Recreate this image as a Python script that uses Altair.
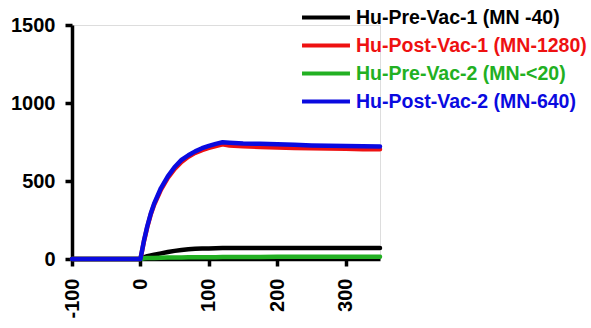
import altair as alt
import pandas as pd

series_names = [
    "Hu-Pre-Vac-1 (MN -40)",
    "Hu-Post-Vac-1 (MN-1280)",
    "Hu-Pre-Vac-2 (MN-<20)",
    "Hu-Post-Vac-2 (MN-640)",
]
series_colors = ["#000000", "#ee1111", "#22b022", "#0a0ae0"]

time = [-100, 0, 5, 10, 15, 20, 30, 40, 50, 60, 70, 80, 90, 100, 110, 120,
        130, 150, 175, 200, 225, 250, 275, 300, 325, 350]

pre_vac_1 = [0, 0, 10, 18, 23, 28, 36, 45, 52, 58, 62, 65, 67, 68, 69, 70,
             71, 71, 70, 70, 70, 70, 70, 70, 70, 70]
post_vac_1 = [0, 0, 110, 205, 285, 348, 445, 520, 578, 622, 655, 680, 698, 712, 724, 735,
              728, 722, 718, 715, 712, 710, 708, 706, 704, 703]
pre_vac_2 = [0, 0, 5, 6, 7, 7, 8, 9, 10, 10, 11, 11, 12, 12, 12, 13,
             13, 13, 13, 14, 14, 14, 14, 14, 14, 14]
post_vac_2 = [0, 0, 115, 210, 290, 355, 455, 530, 590, 635, 665, 690, 710, 725, 738, 748,
              745, 740, 738, 735, 732, 728, 726, 724, 722, 721]

x_ticks = [-100, 0, 100, 200, 300]
y_ticks = [0, 500, 1000, 1500]

rows = []
for name, vals in zip(series_names, [pre_vac_1, post_vac_1, pre_vac_2, post_vac_2]):
    for t, v in zip(time, vals):
        rows.append({"time": t, "value": v, "series": name})
df = pd.DataFrame(rows)

FONT = "Liberation Sans"

chart = alt.Chart(df).mark_line(strokeWidth=4.5, strokeCap="round", strokeJoin="round").encode(
    x=alt.X("time:Q",
            scale=alt.Scale(domain=[-100, 350], nice=False, zero=False),
            axis=alt.Axis(values=x_ticks, title=None, labelAngle=270, grid=False,
                          labelExpr="'' + datum.value",
                          domainColor="black", domainWidth=3.5, tickColor="black",
                          tickWidth=3.5, tickSize=7, labelPadding=12,
                          labelFont=FONT, labelFontSize=20, labelFontWeight="bold",
                          labelColor="black", labelOverlap=False)),
    y=alt.Y("value:Q",
            scale=alt.Scale(domain=[0, 1500], nice=False),
            axis=alt.Axis(values=y_ticks, title=None, grid=False,
                          labelExpr="'' + datum.value",
                          domainColor="black", domainWidth=3.5, tickColor="black",
                          tickWidth=3.5, tickSize=7, labelPadding=10,
                          labelFont=FONT, labelFontSize=20, labelFontWeight="bold",
                          labelColor="black", labelOverlap=False)),
    color=alt.Color("series:N",
                    scale=alt.Scale(domain=series_names, range=series_colors),
                    sort=series_names,
                    legend=alt.Legend(
                        title=None, orient="none", legendX=228, legendY=-17,
                        symbolType="stroke", symbolSize=2300, symbolStrokeWidth=4,
                        clipHeight=19, rowPadding=8, labelOffset=4,
                        labelFont=FONT, labelFontSize=19.5, labelFontWeight="bold",
                        labelLimit=400,
                        labelColor=alt.ExprRef(expr="scale('color', datum.value)"))),
    detail="series:N",
).properties(
    width=308,
    height=234,
    autosize=alt.AutoSizeParams(type="none"),
    padding={"left": 72, "top": 25, "right": 211, "bottom": 69},
).configure_view(stroke=None).configure(background="white")

chart.save("out.html", embed_options={"renderer": "svg", "actions": False})
